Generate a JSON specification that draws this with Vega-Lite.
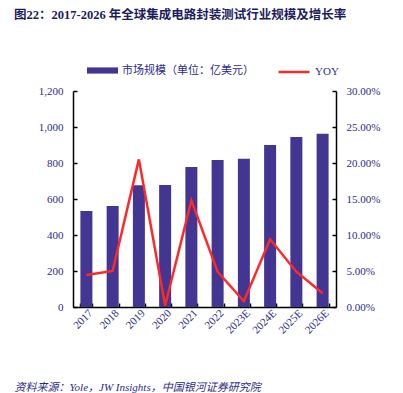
{
  "$schema": "https://vega.github.io/schema/vega-lite/v6.json",
  "autosize": "none",
  "width": 263,
  "height": 216,
  "padding": {"left": 73, "top": 91, "right": 67, "bottom": 86},
  "background": "white",
  "config": {
    "view": {"stroke": null},
    "font": "Liberation Serif, Noto Sans CJK SC",
    "axis": {"labelFont": "Liberation Serif, Noto Sans CJK SC", "labelColor": "#2b2a8c", "labelFontSize": 11, "domainColor": "#000000", "domainWidth": 1.5, "tickColor": "#000000", "tickWidth": 1.5, "grid": false}
  },
  "title": {
    "text": "图22：2017-2026 年全球集成电路封装测试行业规模及增长率",
    "anchor": "start",
    "frame": "group",
    "font": "Liberation Serif, Noto Sans CJK SC",
    "fontSize": 12.5,
    "fontWeight": "bold",
    "color": "#1c1c5e",
    "dx": -59,
    "offset": 34
  },
  "data": {
    "values": [
      {"year": "2017", "size": 533, "yoy": 0.0444, "bar": "市场规模（单位：亿美元）", "line": "YOY"},
      {"year": "2018", "size": 561, "yoy": 0.050, "bar": "市场规模（单位：亿美元）", "line": "YOY"},
      {"year": "2019", "size": 676, "yoy": 0.205, "bar": "市场规模（单位：亿美元）", "line": "YOY"},
      {"year": "2020", "size": 678, "yoy": 0.002, "bar": "市场规模（单位：亿美元）", "line": "YOY"},
      {"year": "2021", "size": 778, "yoy": 0.148, "bar": "市场规模（单位：亿美元）", "line": "YOY"},
      {"year": "2022", "size": 816, "yoy": 0.049, "bar": "市场规模（单位：亿美元）", "line": "YOY"},
      {"year": "2023E", "size": 824, "yoy": 0.008, "bar": "市场规模（单位：亿美元）", "line": "YOY"},
      {"year": "2024E", "size": 900, "yoy": 0.094, "bar": "市场规模（单位：亿美元）", "line": "YOY"},
      {"year": "2025E", "size": 944, "yoy": 0.049, "bar": "市场规模（单位：亿美元）", "line": "YOY"},
      {"year": "2026E", "size": 963, "yoy": 0.019, "bar": "市场规模（单位：亿美元）", "line": "YOY"}
    ]
  },
  "encoding": {
    "x": {
      "field": "year",
      "type": "ordinal",
      "sort": null,
      "scale": {"paddingInner": 0.543, "paddingOuter": 0.282},
      "axis": {
        "labelAngle": -45,
        "labelAlign": "right",
        "labelBaseline": "top",
        "labelPadding": 4,
        "tickBand": "extent",
        "tickSize": -4,
        "title": "资料来源：Yole，JW Insights，中国银河证券研究院",
        "titleFont": "Liberation Serif, Noto Sans CJK SC",
        "titleFontStyle": "italic",
        "titleFontWeight": "normal",
        "titleFontSize": 11,
        "titleColor": "#2b2a8c",
        "titleAnchor": "start",
        "titleAlign": "left",
        "titleBaseline": "alphabetic",
        "titleX": -59,
        "titleY": 83
      }
    }
  },
  "layer": [
    {
      "mark": {"type": "bar"},
      "encoding": {
        "y": {
          "field": "size",
          "type": "quantitative",
          "scale": {"domain": [0, 1200], "nice": false},
          "axis": {"title": null, "values": [0, 200, 400, 600, 800, 1000, 1200], "format": ",.0f", "tickSize": -4, "labelPadding": 14}
        },
        "fill": {
          "field": "bar",
          "type": "nominal",
          "scale": {"range": ["#433592"]},
          "legend": {
            "title": null,
            "orient": "none",
            "legendX": 14,
            "legendY": -36,
            "direction": "horizontal",
            "symbolType": "M-1,-0.2H1V0.2H-1Z",
            "symbolSize": 961,
            "symbolStrokeWidth": 0,
            "labelFont": "Liberation Serif, Noto Sans CJK SC",
            "labelFontSize": 11,
            "labelColor": "#2b2a8c",
            "labelLimit": 300,
            "labelOffset": 4
          }
        }
      }
    },
    {
      "mark": {"type": "line", "strokeWidth": 2.5},
      "encoding": {
        "y": {
          "field": "yoy",
          "type": "quantitative",
          "scale": {"domain": [0, 0.3], "nice": false},
          "axis": {"title": null, "orient": "right", "values": [0, 0.05, 0.1, 0.15, 0.2, 0.25, 0.3], "format": ".2%", "tickSize": -4, "labelPadding": 14}
        },
        "stroke": {
          "field": "line",
          "type": "nominal",
          "scale": {"range": ["#ff2828"]},
          "legend": {
            "title": null,
            "orient": "none",
            "legendX": 204,
            "legendY": -36,
            "direction": "horizontal",
            "symbolType": "stroke",
            "symbolSize": 961,
            "symbolStrokeWidth": 2.5,
            "labelFont": "Liberation Serif, Noto Sans CJK SC",
            "labelFontSize": 11,
            "labelColor": "#2b2a8c",
            "labelOffset": 4
          }
        }
      }
    }
  ],
  "resolve": {"scale": {"y": "independent", "fill": "independent", "stroke": "independent"}}
}
